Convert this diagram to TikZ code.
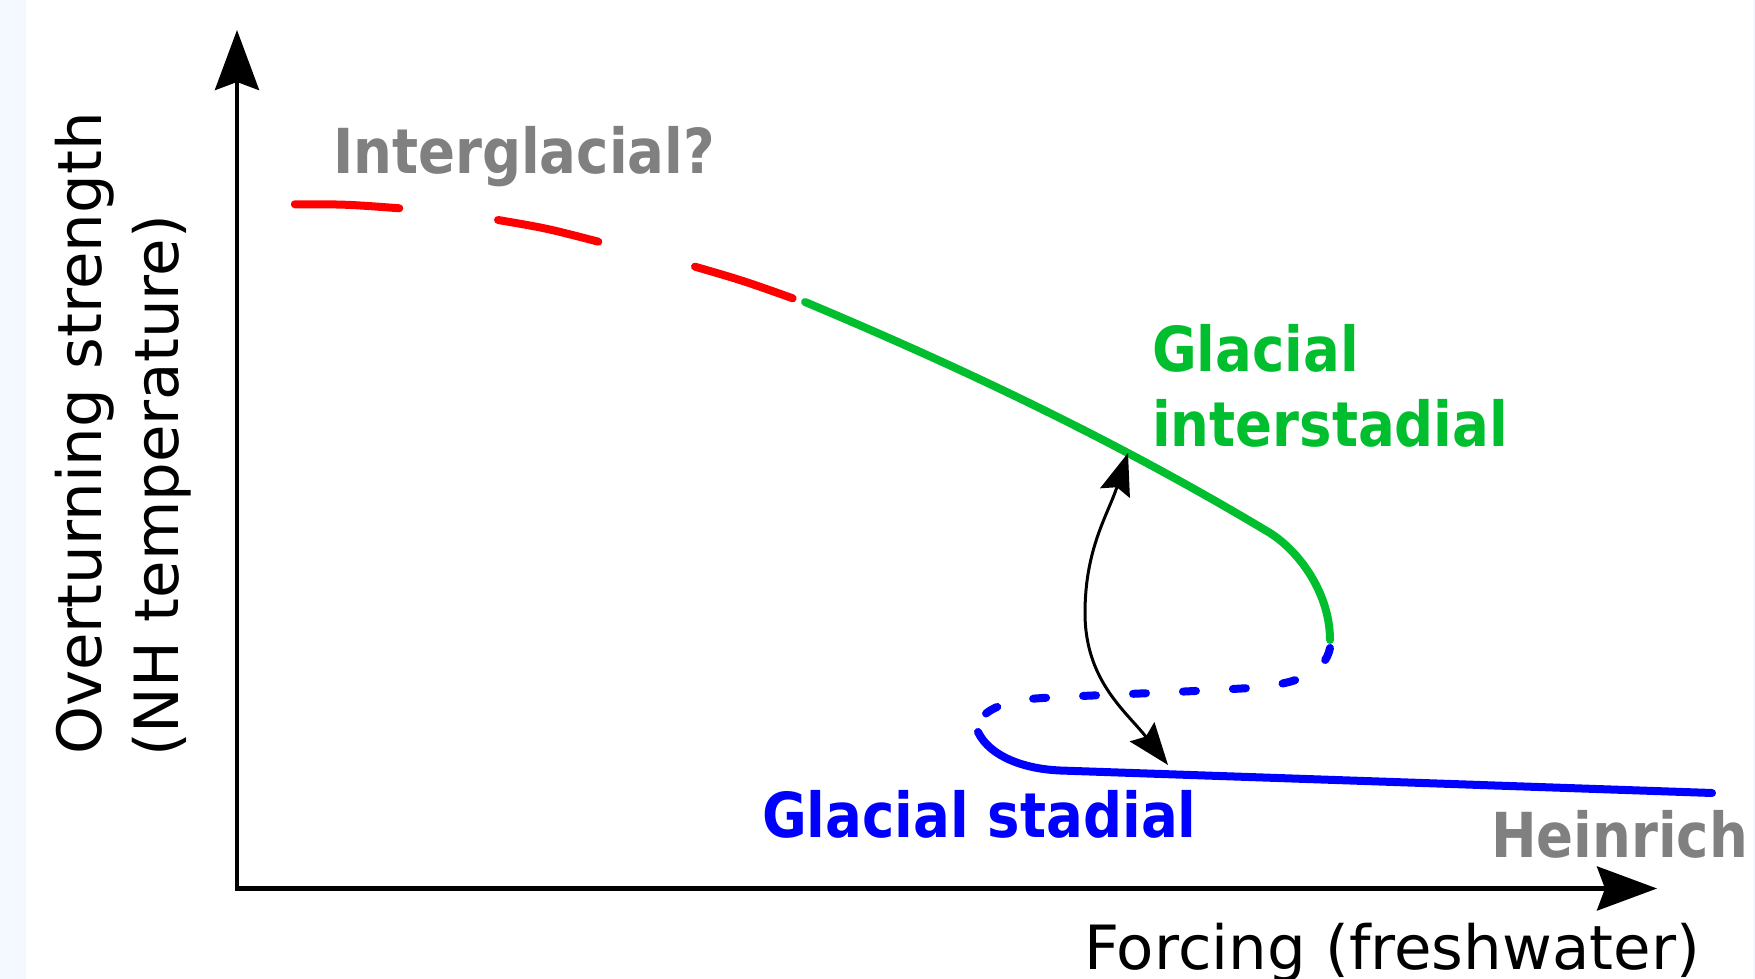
\documentclass[tikz,border=0pt]{standalone}
\usepackage{fontspec}
\setmainfont{DejaVu Sans}
\newfontfamily\labfont[FakeStretch=0.88]{DejaVu Sans}
\usetikzlibrary{arrows.meta}
\definecolor{gline}{RGB}{0,190,45}
\definecolor{glab}{RGB}{128,128,128}
\definecolor{stripc}{RGB}{244,249,255}
\tikzset{
  curve/.style={line width=8pt, line cap=round},
  axisline/.style={line width=4.5pt, line join=miter},
  lab/.style={inner sep=0pt, outer sep=0pt, anchor=base west, font=\labfont\bfseries\fontsize{62}{62}\selectfont},
  axlab/.style={inner sep=0pt, outer sep=0pt, anchor=base west, font=\fontsize{61}{61}\selectfont},
}
\begin{document}
\begin{tikzpicture}[x=1pt, y=1pt]
\useasboundingbox (0,0) rectangle (1755,979);
\fill[white] (0,0) rectangle (1755,979);
\fill[stripc] (0,0) rectangle (26,979);
\fill[stripc] (1753,0) rectangle (1755,979);

% axes
\coordinate (O) at (237,90.5);
\coordinate (ytip) at (237,949);
\coordinate (xtip) at (1657,90.5);
\draw[axisline, {Stealth[length=60pt, width=44pt, inset=8pt]}-{Stealth[length=60pt, width=44pt, inset=8pt]}] (ytip) -- (O) -- (xtip);

% red dashes (interglacial branch)
\coordinate (r1a) at (294.8,774.7); \coordinate (r1b) at (399.3,770.7);
\coordinate (r2a) at (498,759);     \coordinate (r2b) at (598.3,737.3);
\coordinate (r3a) at (695,712.3);   \coordinate (r3b) at (792.7,680.7);
\draw[curve, red] (r1a) .. controls (346,774.7) .. (r1b);
\draw[curve, red] (r2a) .. controls (546.7,750.7) .. (r2b);
\draw[curve, red] (r3a) .. controls (742.5,698.5) .. (r3b);

% green branch
\coordinate (g0) at (805,677);
\coordinate (g1) at (1270,446);
\coordinate (g2) at (1330,339);
\draw[curve, gline] (g0) .. controls (960,612) and (1115,539) .. (g1)
   .. controls (1300,427) and (1330,385) .. (g2);

% blue dashed unstable branch
\coordinate (b0) at (1330,331);
\coordinate (b1) at (1250,291);
\coordinate (b2) at (1030,280);
\coordinate (b3) at (978,251);
\draw[curve, blue, dash pattern=on 13pt off 37pt] (b0) .. controls (1325,307) and (1300,295) .. (b1)
   .. controls (1150,285) and (1060,283) .. (b2)
   .. controls (995,276) and (978,264) .. (b3);

% blue solid stadial branch
\coordinate (s0) at (978,247);
\coordinate (s1) at (1060,208.5);
\coordinate (s2) at (1712,186);
\draw[curve, blue] (s0) .. controls (990,222) and (1025,210) .. (s1) -- (s2);

% transition arrow
\coordinate (aB) at (1168,214);
\coordinate (aM) at (1085,366);
\coordinate (aT) at (1128,526);
\draw[line width=3pt, {Stealth[length=42pt, width=31pt, inset=6pt]}-{Stealth[length=42pt, width=31pt, inset=6pt]}]
  (aB) to[out=128, in=270] (aM) to[out=90, in=252] (aT);

% labels
\node[lab, glab] (inter) at (333,805) {Interglacial?};
\node[lab, gline] (gla1) at (1152,607.3) {Glacial};
\node[lab, gline] (gla2) at (1152,532.3) {interstadial};
\node[lab, blue] (stad) at (762,141.3) {Glacial stadial};
\node[lab, glab] (hein) at (1491,121.7) {Heinrich};
\node[axlab] (xlab) at (1084,9) {Forcing (freshwater)};
\node[axlab, rotate=90] (ylab1) at (101.5,224) {Overturning strength};
\node[axlab, rotate=90] (ylab2) at (178,222) {(NH temperature)};
\end{tikzpicture}
\end{document}
